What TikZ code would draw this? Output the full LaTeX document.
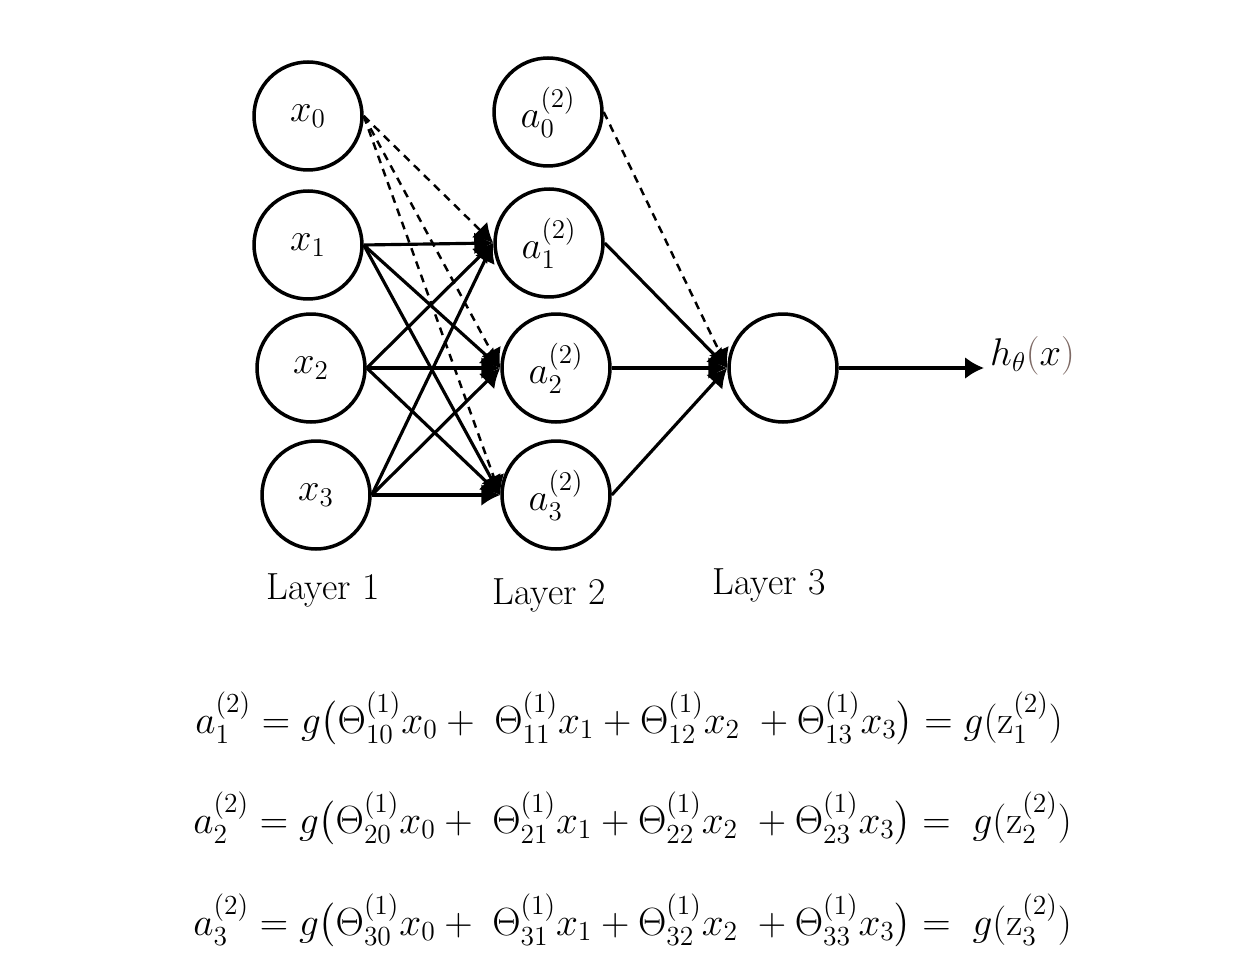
\RequirePackage{fix-cm}
\documentclass[tikz,border=0pt]{standalone}
\usepackage{amsmath}
\usetikzlibrary{arrows.meta}
\definecolor{parbrown}{RGB}{125,105,100}
\tikzset{
  neuron/.style={draw, circle, line width=2pt, minimum size=2.16cm,
    inner sep=0pt, font=\fontsize{22}{26}\selectfont},
  wire/.style={line width=1.8pt, -{Latex[length=0.38cm,width=0.44cm]}},
  biaswire/.style={wire, line width=1.4pt, dash pattern=on 4.5pt off 3.5pt},
  layerlabel/.style={font=\fontsize{21.5}{26}\selectfont},
  eqn/.style={anchor=base west, inner sep=0pt, font=\fontsize{22.4}{28}\selectfont},
}

\begin{document}
\begin{tikzpicture}[x=0.02cm, y=-0.02cm]
  \useasboundingbox (0,0) rectangle (1256,976);

  % layer 1
  \node[neuron] (x0) at (308,116) {$x_0$};
  \node[neuron] (x1) at (308,245) {$x_1$};
  \node[neuron] (x2) at (311,368) {$x_2$};
  \node[neuron] (x3) at (316,495) {$x_3$};
  % layer 2
  \node[neuron] (a0) at (548,112) {$a^{(2)}_0$};
  \node[neuron] (a1) at (549,243) {$a^{(2)}_1$};
  \node[neuron] (a2) at (556,368) {$a^{(2)}_2$};
  \node[neuron] (a3) at (556,495) {$a^{(2)}_3$};
  % layer 3
  \node[neuron] (out) at (783,368) {};
  \node[anchor=west, font=\fontsize{22}{26}\selectfont] (hout) at (984,356)
    {$h_\theta\textcolor{parbrown}{(}x\textcolor{parbrown}{)}$};

  \node[layerlabel] (l1) at (323,590) {Layer 1};
  \node[layerlabel] (l2) at (549,595) {Layer 2};
  \node[layerlabel] (l3) at (769,585) {Layer 3};

  % bias
  \draw[biaswire] (x0.east) -- (a1.west);
  \draw[biaswire] (x0.east) -- (a2.west);
  \draw[biaswire] (x0.east) -- (a3.west);
  \draw[biaswire] (a0.east) -- (out.west);
  % weights
  \draw[wire] (x1.east) -- (a1.west);
  \draw[wire] (x1.east) -- (a2.west);
  \draw[wire] (x1.east) -- (a3.west);
  \draw[wire] (x2.east) -- (a1.west);
  \draw[wire] (x2.east) -- (a2.west);
  \draw[wire] (x2.east) -- (a3.west);
  \draw[wire] (x3.east) -- (a1.west);
  \draw[wire] (x3.east) -- (a2.west);
  \draw[wire] (x3.east) -- (a3.west);
  \draw[wire] (a1.east) -- (out.west);
  \draw[wire] (a2.east) -- (out.west);
  \draw[wire] (a3.east) -- (out.west);
  \draw[wire] (out.east) -- (out.east -| hout.west);

  % equations
  \node[eqn] (eq1) at (195,733)
    {$a^{(2)}_1 = g\bigl(\Theta^{(1)}_{10}x_0 +\;\Theta^{(1)}_{11}x_1 + \Theta^{(1)}_{12}x_2\;+\Theta^{(1)}_{13}x_3\bigr) = g(\mathrm{z}^{(2)}_1)$};
  \node[eqn] (eq2) at (193,833)
    {$a^{(2)}_2 = g\bigl(\Theta^{(1)}_{20}x_0 +\;\Theta^{(1)}_{21}x_1 + \Theta^{(1)}_{22}x_2\;+\Theta^{(1)}_{23}x_3\bigr) =\;g(\mathrm{z}^{(2)}_2)$};
  \node[eqn] (eq3) at (193,935)
    {$a^{(2)}_3 = g\bigl(\Theta^{(1)}_{30}x_0 +\;\Theta^{(1)}_{31}x_1 + \Theta^{(1)}_{32}x_2\;+\Theta^{(1)}_{33}x_3\bigr) =\;g(\mathrm{z}^{(2)}_3)$};
\end{tikzpicture}
\end{document}
